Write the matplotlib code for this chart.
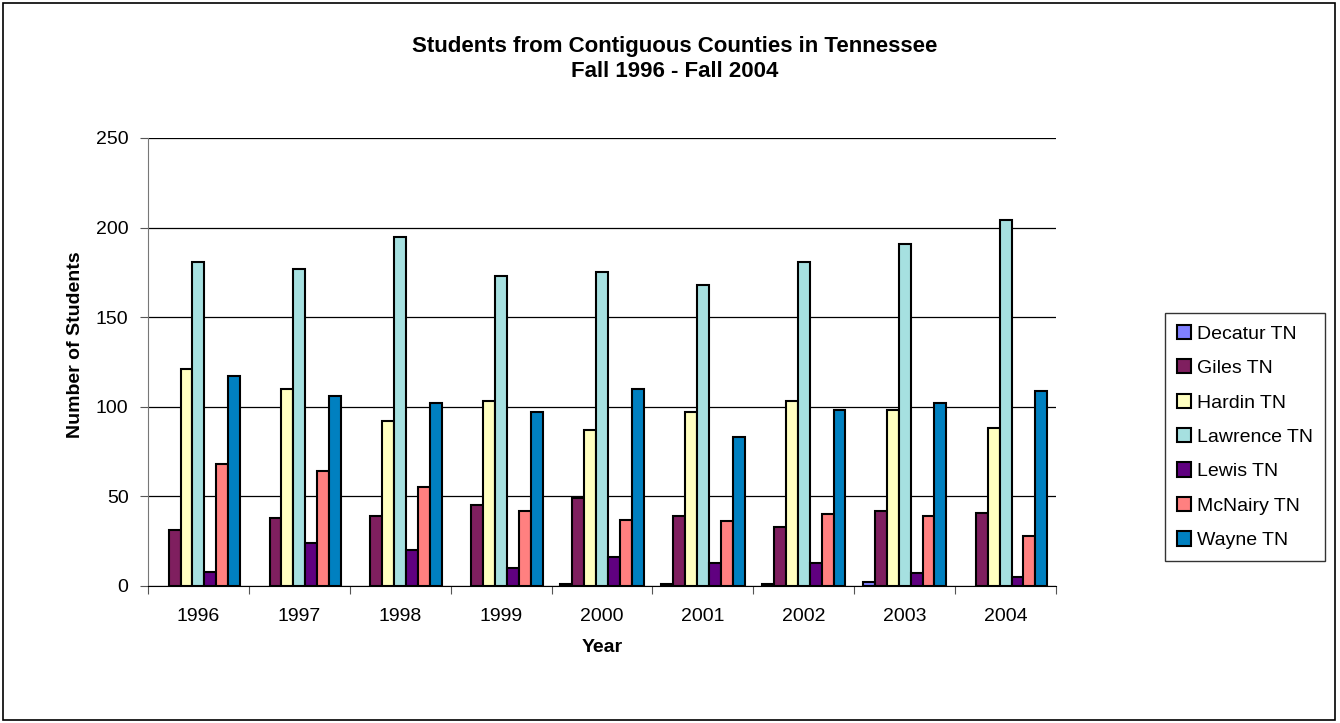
import matplotlib
matplotlib.use('Agg')
import matplotlib.pyplot as plt
import numpy as np
from matplotlib.patches import Rectangle

plt.rcParams['font.family'] = ['Liberation Sans', 'DejaVu Sans']

# data
years = ['1996', '1997', '1998', '1999', '2000', '2001', '2002', '2003', '2004']
counties = ['Decatur TN', 'Giles TN', 'Hardin TN', 'Lawrence TN', 'Lewis TN', 'McNairy TN', 'Wayne TN']
decatur = [0, 0, 0, 0, 1, 1, 1, 2, 0]
giles = [31, 38, 39, 45, 49, 39, 33, 42, 41]
hardin = [121, 110, 92, 103, 87, 97, 103, 98, 88]
lawrence = [181, 177, 195, 173, 175, 168, 181, 191, 204]
lewis = [8, 24, 20, 10, 16, 13, 13, 7, 5]
mcnairy = [68, 64, 55, 42, 37, 36, 40, 39, 28]
wayne = [117, 106, 102, 97, 110, 83, 98, 102, 109]
colors = ['#8080FF', '#7F1F5F', '#FFFFC0', '#A6E0E0', '#600080', '#FF8080', '#0080C0']

series = [decatur, giles, hardin, lawrence, lewis, mcnairy, wayne]

fig = plt.figure(figsize=(13.4, 7.23), dpi=100)
W, H = 1340, 723
# axes box in pixel coords: x 148..1056, y 138..586
ax = fig.add_axes([148 / W, 1 - 586 / H, (1056 - 148) / W, (586 - 138) / H])

# outer chart border
fig.patches.append(Rectangle((3 / W, 3 / H), (1335 - 3) / W, (720 - 3) / H,
                             transform=fig.transFigure, fill=False,
                             edgecolor='black', linewidth=1.2))

x = np.arange(len(years))
bw = 0.118
for i in range(len(series)):
    off = (i - 3) * bw
    lws = [1.5 if v > 0 else 0 for v in series[i]]  # zero bars are not drawn
    ax.bar(x + off, series[i], width=bw, color=colors[i], edgecolor='black',
           linewidth=lws, label=counties[i], zorder=3)

ax.set_xlim(-0.5, len(years) - 0.5)
ax.set_ylim(0, 250)
ax.set_yticks([0, 50, 100, 150, 200, 250])
ax.yaxis.grid(True, color='black', linewidth=0.9, zorder=0)
ax.set_axisbelow(True)

# category labels between the boundary ticks
ax.set_xticks(np.arange(len(years) + 1) - 0.5)
ax.set_xticklabels([])
ax.set_xticks(x, minor=True)
ax.set_xticklabels(years, minor=True, fontsize=14)
ax.tick_params(axis='x', which='minor', length=0, pad=16)
ax.tick_params(axis='x', which='major', length=6, color='#555555', direction='out')
ax.tick_params(axis='y', length=6, color='#555555', labelsize=14, pad=8)

for s in ['top', 'right']:
    ax.spines[s].set_visible(False)
ax.spines['left'].set_color('#777777')
ax.spines['bottom'].set_color('black')

ax.set_xlabel('Year', fontsize=14, fontweight='bold', labelpad=10)
fig.text(75 / W, 1 - 345 / H, 'Number of Students', rotation=90, ha='center', va='center',
         fontsize=14, fontweight='bold')

fig.text(675 / W, 1 - 59 / H, 'Students from Contiguous Counties in Tennessee\nFall 1996 - Fall 2004',
         ha='center', va='center', fontsize=16, fontweight='bold', linespacing=1.2)

leg = fig.legend(loc='center', bbox_to_anchor=(1245 / W, 1 - 437 / H), fontsize=14,
                 frameon=True, fancybox=False, edgecolor='black', handlelength=0.75,
                 handleheight=0.75, handletextpad=0.3, labelspacing=0.85, borderpad=0.6)
leg.get_frame().set_linewidth(1.0)
for h in leg.legend_handles:
    h.set_edgecolor('black')
    h.set_linewidth(1.5)

plt.savefig('out.png', dpi=100)
